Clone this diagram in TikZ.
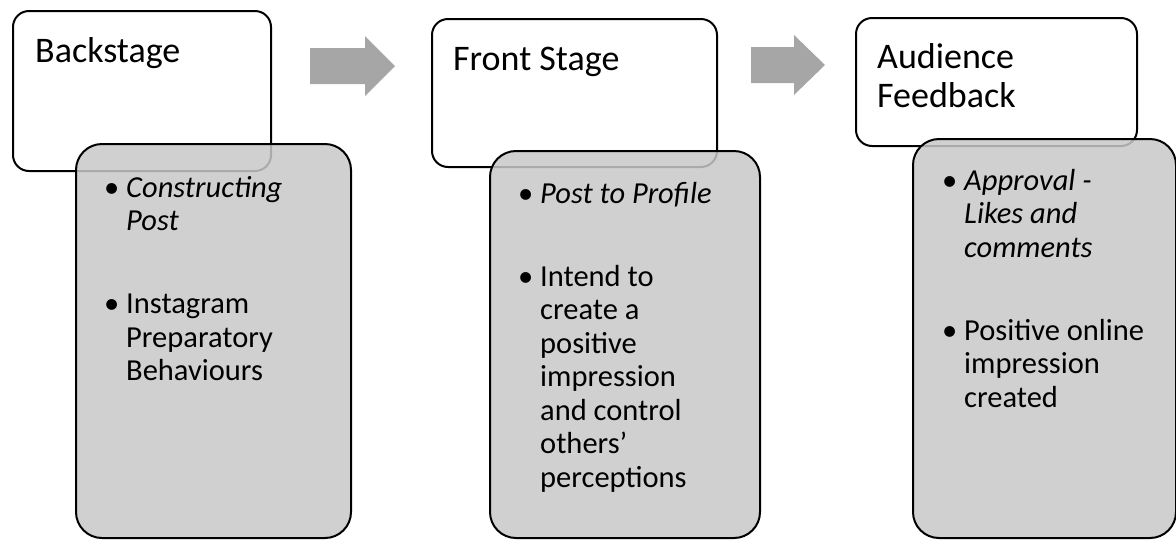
\documentclass[tikz,border=0pt]{standalone}
\usepackage{fontspec}
\setmainfont{Carlito}

\definecolor{notegray}{RGB}{200,200,200}
\definecolor{flowgray}{RGB}{166,166,166}

\newcommand{\notelist}[1]{\begin{tabular}[t]{@{}p{22pt}@{}l@{}}#1\end{tabular}}

\begin{document}
\begin{tikzpicture}[
      x=1pt, y=-1pt,
      titlebox/.style={draw, line width=2pt, rounded corners=16pt, fill=white,
                       anchor=north west, inner sep=0pt},
      notebox/.style={draw, line width=2pt, rounded corners=26pt, fill=notegray,
                      fill opacity=0.85, anchor=north west, inner sep=0pt},
      titletext/.style={anchor=base west, inner sep=0pt,
                        font=\fontsize{36}{39}\selectfont},
      notetext/.style={anchor=base west, inner sep=0pt,
                       font=\fontsize{30.5}{33.5}\selectfont},
      flow/.style={fill=flowgray}
    ]
    \useasboundingbox (0,0) rectangle (1176,539);

    % stage boxes
    \node[titlebox, minimum width=258pt, minimum height=160pt] (back) at (12,10) {};
    \node[titlebox, minimum width=285pt, minimum height=148pt] (front) at (431,18) {};
    \node[titlebox, minimum width=281pt, minimum height=128pt] (aud) at (855,17) {};

    % detail boxes
    \node[notebox, minimum width=275pt, minimum height=394pt] (backnote) at (75,143) {};
    \node[notebox, minimum width=270pt, minimum height=387pt] (frontnote) at (489,150) {};
    \node[notebox, minimum width=263pt, minimum height=399pt] (audnote) at (912,138) {};

    % titles
    \node[titletext] (backtitle) at ([shift={(23pt,-52pt)}]back.north west) {Backstage};
    \node[titletext] (fronttitle) at ([shift={(22pt,-52pt)}]front.north west) {Front Stage};
    \node[titletext] (audtitle) at ([shift={(22pt,-51pt)}]aud.north west)
      {\begin{tabular}[t]{@{}l@{}}Audience\\Feedback\end{tabular}};

    % bullet text
    \node[notetext] (backtext) at ([shift={(29pt,-54pt)}]backnote.north west) {\notelist{
      \textbullet & \textit{Constructing}\\
                  & \textit{Post}\\[49.5pt]
      \textbullet & Instagram\\
                  & Preparatory\\
                  & Behaviours}};
    \node[notetext] (fronttext) at ([shift={(29pt,-53pt)}]frontnote.north west) {\notelist{
      \textbullet & \textit{Post to Profile}\\[49.5pt]
      \textbullet & Intend to\\
                  & create a\\
                  & positive\\
                  & impression\\
                  & and control\\
                  & others’\\
                  & perceptions}};
    \node[notetext] (audtext) at ([shift={(30pt,-52pt)}]audnote.north west) {\notelist{
      \textbullet & \textit{Approval -}\\
                  & \textit{Likes and}\\
                  & \textit{comments}\\[49.5pt]
      \textbullet & Positive online\\
                  & impression\\
                  & created}};

    % block arrows
    \fill[flow] (310,48) -- (365,48) -- (365,36) -- (395,66) -- (365,96) -- (365,84)
      -- (310,84) -- cycle;
    \fill[flow] (751,47) -- (794,47) -- (794,35) -- (825,65) -- (794,95) -- (794,83)
      -- (751,83) -- cycle;
  \end{tikzpicture}
\end{document}
